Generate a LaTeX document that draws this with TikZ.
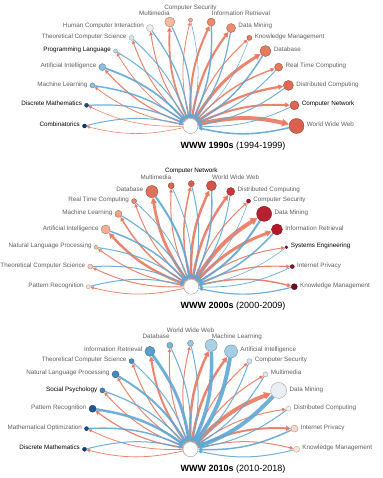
\documentclass[tikz,border=0pt]{standalone}
\usepackage{fontspec}
\setmainfont{Liberation Sans}
\usetikzlibrary{calc,arrows.meta}
\pgfdeclarelayer{edges}
\pgfsetlayers{edges,main}
\definecolor{lblg}{HTML}{5E5E5E}
\definecolor{rededge}{HTML}{E9785F}
\definecolor{blueedge}{HTML}{5FA7D5}
\tikzset{
  centernode/.style={circle, draw=black!35, line width=0.5pt, fill=white, minimum size=15pt, inner sep=0pt},
  topicnode/.style={circle, line width=0.4pt, inner sep=0pt},
  outedge/.style={draw=rededge, draw opacity=0.9, -{Triangle[length=2.5pt 1.1, width=2.5pt 1.2]}},
  inedge/.style={draw=blueedge, draw opacity=0.9, -{Triangle[length=2.5pt 1.1, width=2.5pt 1.2]}},
  lbl/.style={font=\fontsize{6.3}{7}\selectfont, inner sep=0pt},
  paneltitle/.style={font=\fontsize{9}{10}\selectfont, inner sep=0pt}
}
\newcommand{\drawpanel}[5]{%
  \node[centernode] (c#1) at (#2,#3) {};
  \foreach \i/\lab/\rr/\col/\wo/\wi/\tc in {#5} {
    \definecolor{nfill}{HTML}{\col}
    \node[topicnode, fill=nfill, draw=nfill!70!black, minimum size={2*\rr pt}] (p#1n\i) at ($(c#1)+(\i*11.25:#4pt)$) {};
    \begin{pgfonlayer}{edges}
      \draw[outedge, line width=\wo pt] (c#1) to[bend left=13] (p#1n\i);
      \draw[inedge, line width=\wi pt] (p#1n\i) to[bend left=13] (c#1);
    \end{pgfonlayer}
    \ifnum\i<6 \node[lbl, text=\tc, anchor=mid west] (l#1n\i) at ($(p#1n\i.east)+(2.5,2)$) {\lab};\fi
    \ifnum\i=6 \node[lbl, text=\tc, anchor=mid west] (l#1n\i) at ($(p#1n\i.east)+(2.5,3)$) {\lab};\fi
    \ifnum\i=7 \node[lbl, text=\tc, anchor=mid west] (l#1n\i) at ($(p#1n\i.center)+(0.5,9)$) {\lab};\fi
    \ifnum\i=8 \node[lbl, text=\tc, anchor=mid] (l#1n\i) at ($(p#1n\i.center)+(0,13.5)$) {\lab};\fi
    \ifnum\i=9 \node[lbl, text=\tc, anchor=mid east] (l#1n\i) at ($(p#1n\i.center)+(0,9)$) {\lab};\fi
    \ifnum\i=10 \node[lbl, text=\tc, anchor=mid east] (l#1n\i) at ($(p#1n\i.west)+(-2.2,3)$) {\lab};\fi
    \ifnum\i>10 \node[lbl, text=\tc, anchor=mid east] (l#1n\i) at ($(p#1n\i.west)+(-2.2,2)$) {\lab};\fi
  }
}
\begin{document}
\begin{tikzpicture}[x=1pt,y=1pt]
\useasboundingbox (0,0) rectangle (382,478);

\drawpanel{1}{190.5}{352}{106}{
0/World Wide Web/7.5/D9624F/4/1.6/lblg,
1/Computer Network/4.5/DC6553/2/0.8/black,
2/Distributed Computing/5/DE6954/2.3/1/lblg,
3/Real Time Computing/4/E37A5E/1.4/1/lblg,
4/Database/5.5/E37B5F/3/1.5/lblg,
5/Knowledge Management/2.5/E57F62/1/0.5/lblg,
6/Data Mining/4.5/E98C6F/2.2/1.2/lblg,
7/Information Retrieval/4/EA8A6C/2/1.5/lblg,
8/Computer Security/2/F2AB8F/0.8/0.6/lblg,
9/Multimedia/5/F5BBA2/1.8/1.2/lblg,
10/Human Computer Interaction/3.5/EEEEEE/1/1.2/lblg,
11/Theoretical Computer Science/2.5/D5E5F0/1/1/lblg,
12/Programming Language/2/C3DAEA/0.8/1/black,
13/Artificial Intelligence/3.5/8EBEDC/1.2/1.8/lblg,
14/Machine Learning/2.5/92C0DD/0.8/1.5/lblg,
15/Discrete Mathematics/2/1F4E86/0.6/1.2/black,
16/Combinatorics/2/17386B/0.6/1/black}
\node[paneltitle] (t1) at (233,332) {\textbf{WWW 1990s} (1994-1999)};

\drawpanel{2}{191.3}{191.3}{103}{
0/Knowledge Management/3/6E0C1F/1.5/1.2/lblg,
1/Internet Privacy/2/8A1426/1.2/0.8/lblg,
2/Systems Engineering/1.5/8F1628/1/0.6/black,
3/Information Retrieval/5.5/B2182B/3/1.5/lblg,
4/Data Mining/7.5/B5212F/4/2/lblg,
5/Computer Security/2/A8172B/1/0.6/lblg,
6/Distributed Computing/4/C6393B/2.5/1/lblg,
7/World Wide Web/5/D05447/2.5/1.5/lblg,
8/Computer Network/3/D6604E/1.5/1/black,
9/Multimedia/3/DA6751/1/0.8/lblg,
10/Database/6/DE7359/2.8/2/lblg,
11/Real Time Computing/2.5/E6876A/1/0.8/lblg,
12/Machine Learning/3.5/EFA284/1.5/1.2/lblg,
13/Artificial Intelligence/4.5/F4B199/2.5/1.5/lblg,
14/Natural Language Processing/2/F6C1AB/1/1/lblg,
15/Theoretical Computer Science/2.5/F8CCB7/1/1/lblg,
16/Pattern Recognition/2/FAE3D6/0.8/1/lblg}
\node[paneltitle] (t2) at (233,172) {\textbf{WWW 2000s} (2000-2009)};

\drawpanel{3}{190.5}{28.7}{106}{
0/Knowledge Management/3/FBE6DC/1/1/lblg,
1/Internet Privacy/3.5/F9DACB/2/1.5/lblg,
2/Distributed Computing/2.5/F4F4F4/1/1/lblg,
3/Data Mining/8/E9EEF2/4/4/lblg,
4/Multimedia/2.5/DDE9F2/1/1/lblg,
5/Computer Security/2.5/D3E5F1/1/1/lblg,
6/Artificial Intelligence/6.5/A5CDE3/2.5/4/lblg,
7/Machine Learning/6/A9D0E5/2.5/3.5/lblg,
8/World Wide Web/3/9AC7E0/1/1/lblg,
9/Database/3/80B5D6/1/1/lblg,
10/Information Retrieval/5/5B9EC9/2/3/lblg,
11/Theoretical Computer Science/2.5/4A90C2/1/1/lblg,
12/Natural Language Processing/3.5/4589BF/1/2/lblg,
13/Social Psychology/2.5/4A85BA/1/1.2/black,
14/Pattern Recognition/3.5/1D5897/1.2/2.5/lblg,
15/Mathematical Optimization/2/1A4A87/0.8/1.5/lblg,
16/Discrete Mathematics/2/163D72/0.8/1/black}
\node[paneltitle] (t3) at (233,9) {\textbf{WWW 2010s} (2010-2018)};
\end{tikzpicture}
\end{document}
